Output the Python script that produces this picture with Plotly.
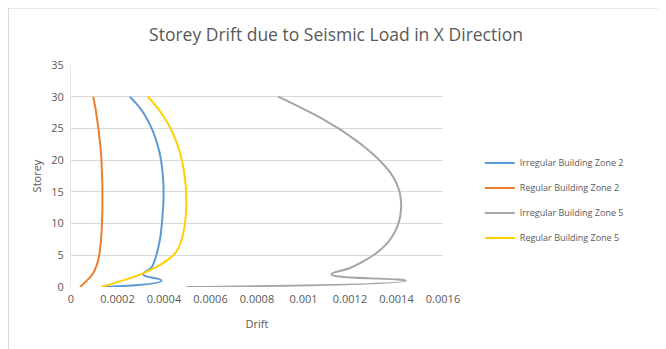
import plotly.graph_objects as go

storey = list(range(0, 31))

irregular_z2 = [0.00014, 0.00039, 0.00031, 0.000345, 0.000358, 0.000367, 0.000374, 0.000380, 0.000385, 0.000388,
                0.000391, 0.000393, 0.000395, 0.000397, 0.000398, 0.000398, 0.000398, 0.000396, 0.000394, 0.000391,
                0.000387, 0.000382, 0.000375, 0.000367, 0.000358, 0.000347, 0.000334, 0.000319, 0.000301, 0.000279,
                0.000253]
regular_z2 = [0.000039, 0.000068, 0.000092, 0.000106, 0.000115, 0.000121, 0.000125, 0.000128, 0.000130, 0.000132,
              0.000133, 0.000134, 0.000135, 0.000135, 0.000135, 0.000135, 0.000135, 0.000134, 0.000133, 0.000132,
              0.000131, 0.000129, 0.000127, 0.000124, 0.000121, 0.000118, 0.000114, 0.000110, 0.000106, 0.000101,
              0.0000957]
irregular_z5 = [0.000496, 0.00144, 0.00112, 0.00120, 0.001255, 0.00130, 0.001335, 0.001362, 0.001382, 0.001397,
                0.001408, 0.001415, 0.001419, 0.00142, 0.001418, 0.001413, 0.001404, 0.001391, 0.001374, 0.001352,
                0.001326, 0.001297, 0.001265, 0.001230, 0.001191, 0.00115, 0.001105, 0.001056, 0.001004, 0.000949,
                0.00089]
regular_z5 = [0.000130, 0.000220, 0.000300, 0.000360, 0.000405, 0.000440, 0.000460, 0.000472, 0.000480, 0.000486,
              0.000490, 0.000493, 0.000495, 0.000496, 0.000496, 0.000495, 0.000493, 0.000490, 0.000487, 0.000482,
              0.000477, 0.000470, 0.000462, 0.000452, 0.000441, 0.000428, 0.000413, 0.000396, 0.000377, 0.000355,
              0.000330]

series_names = ["Irregular Building Zone 2", "Regular Building Zone 2",
                "Irregular Building Zone 5", "Regular Building Zone 5"]
series_values = [irregular_z2, regular_z2, irregular_z5, regular_z5]
colors = ["#5B9BD5", "#ED7D31", "#A5A5A5", "#FFD000"]

x_tickvals = [0, 0.0002, 0.0004, 0.0006, 0.0008, 0.001, 0.0012, 0.0014, 0.0016]
x_ticktext = ["0", "0.0002", "0.0004", "0.0006", "0.0008", "0.001", "0.0012", "0.0014", "0.0016"]

font_family = "Open Sans"
grey_text = "#595959"

fig = go.Figure()
for i, (name, vals, col) in enumerate(zip(series_names, series_values, colors)):
    fig.add_trace(go.Scatter(
        x=vals, y=storey, mode="lines", name=name, legendgroup=str(i),
        line=dict(color=col, width=2, shape="spline", smoothing=1.3),
    ))

fig.update_layout(
    width=658, height=341,
    margin=dict(l=63, r=223, t=57, b=62, autoexpand=False),
    paper_bgcolor="white", plot_bgcolor="white",
    font=dict(family=font_family, color=grey_text, size=10),
    title=dict(text="Storey Drift due to Seismic Load in X Direction",
               x=0.4985, xanchor="center", y=0.921, yanchor="middle", yref="container",
               automargin=False,
               font=dict(size=17.5, color=grey_text, family=font_family)),
    showlegend=True,
    legend=dict(x=1.099, xanchor="left", y=0.39, yanchor="middle",
                font=dict(size=9, color=grey_text), traceorder="grouped",
                tracegroupgap=6, bgcolor="rgba(0,0,0,0)"),
    xaxis=dict(range=[0, 0.0016], tickvals=x_tickvals, ticktext=x_ticktext,
               showgrid=False, zeroline=False, showline=False, automargin=False,
               ticks="", ticklabelstandoff=4,
               tickfont=dict(size=11, color=grey_text),
               title=dict(text="Drift", font=dict(size=11, color=grey_text), standoff=15)),
    yaxis=dict(range=[0, 35], dtick=5, showgrid=True, gridcolor="#D9D9D9", gridwidth=1,
               zeroline=False, showline=True, linecolor="#E6E6E6", automargin=False,
               ticks="", ticklabelstandoff=4,
               tickfont=dict(size=11, color=grey_text),
               title=dict(text="Storey", font=dict(size=11, color=grey_text), standoff=7)),
    shapes=[
        dict(type="line", xref="paper", yref="paper", x0=-0.17, x1=1.7, y0=1.2565, y1=1.2565,
             line=dict(color="#D9D9D9", width=1)),
        dict(type="line", xref="paper", yref="paper", x0=-0.168, x1=-0.168, y0=1.26, y1=-0.4,
             line=dict(color="#D9D9D9", width=1)),
    ],
)

fig.write_html("out.html")
